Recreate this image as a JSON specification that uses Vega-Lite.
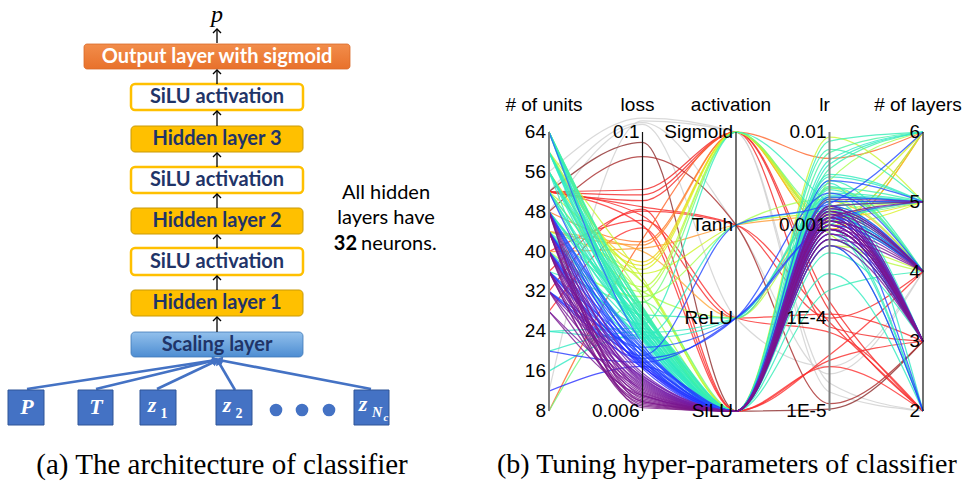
{
 "$schema": "https://vega.github.io/schema/vega-lite/v6.json",
 "width": 967, "height": 485,
 "autosize": {"type": "fit", "contains": "padding"},
 "padding": 0,
 "background": "white",
 "config": {"view": {"stroke": null}, "axis": {"disable": true}},
 "datasets": {
  "boxes": [
   {"k":"out","x":84,"x2":350,"y":44,"y2":69},
   {"k":"act","x":131,"x2":303,"y":84,"y2":110},
   {"k":"hid","x":131,"x2":303,"y":126,"y2":152},
   {"k":"act","x":131,"x2":303,"y":167,"y2":193},
   {"k":"hid","x":131,"x2":303,"y":208,"y2":234},
   {"k":"act","x":131,"x2":303,"y":248,"y2":275},
   {"k":"hid","x":131,"x2":303,"y":290,"y2":316},
   {"k":"scale","x":131,"x2":303,"y":332,"y2":357},
   {"k":"in","x":8,"x2":44,"y":390,"y2":425},
   {"k":"in","x":78,"x2":113,"y":390,"y2":425},
   {"k":"in","x":140,"x2":176,"y":390,"y2":425},
   {"k":"in","x":216,"x2":252,"y":390,"y2":425},
   {"k":"in","x":354,"x2":389,"y":390,"y2":425}
  ],
  "boxlabels": [
   {"k":"out","t":"Output layer with sigmoid","x":217,"y":57},
   {"k":"act","t":"SiLU activation","x":217,"y":97},
   {"k":"hid","t":"Hidden layer 3","x":217,"y":139},
   {"k":"act","t":"SiLU activation","x":217,"y":180},
   {"k":"hid","t":"Hidden layer 2","x":217,"y":221},
   {"k":"act","t":"SiLU activation","x":217,"y":262},
   {"k":"hid","t":"Hidden layer 1","x":217,"y":303},
   {"k":"scale","t":"Scaling layer","x":217,"y":345}
  ],
  "arrows": [
   {"x":217,"y":43,"y2":29},
   {"x":217,"y":84,"y2":70},
   {"x":217,"y":126,"y2":111},
   {"x":217,"y":167,"y2":153},
   {"x":217,"y":208,"y2":194},
   {"x":217,"y":248,"y2":235},
   {"x":217,"y":290,"y2":276},
   {"x":217,"y":332,"y2":317}
  ],
  "inlines": [
   {"x":27,"y":389,"x2":216,"y2":360},
   {"x":96,"y":389,"x2":216,"y2":360},
   {"x":157,"y":389,"x2":216,"y2":361},
   {"x":235,"y":390,"x2":218,"y2":361},
   {"x":371,"y":389,"x2":219,"y2":360}
  ],
  "dots": [{"x":276,"y":410},{"x":302,"y":410},{"x":329,"y":410}],
  "inletters": [
   {"t":"P","x":27,"y":407},{"t":"T","x":96,"y":407},
   {"t":"z","x":152,"y":405},{"t":"z","x":227,"y":405},{"t":"z","x":363,"y":404}
  ],
  "insub": [{"t":"1","x":164,"y":414},{"t":"2","x":239,"y":414}],
  "insubN": [{"t":"N","x":377,"y":413}],
  "insubc": [{"t":"c","x":386,"y":418}],
  "plabel": [{"t":"p","x":217,"y":15}],
  "note": [{"t":"All hidden","x":386,"y":193},{"t":"layers have","x":386,"y":218}],
  "notebold": [{"t":"32","x":357,"y":244}],
  "noteend": [{"t":"neurons.","x":361,"y":244}],
  "capa": [{"t":"(a) The architecture of classifier","x":222,"y":465}],
  "capb": [{"t":"(b) Tuning hyper-parameters of classifier","x":497,"y":465}],
  "runs": [
   {"id":1,"u":52,"l":0.11,"a":"Tanh","r":0.000025,"n":4},
   {"id":2,"u":12,"l":0.112,"a":"Sigmoid","r":0.000016,"n":2},
   {"id":3,"u":48,"l":0.108,"a":"ReLU","r":0.00003,"n":4},
   {"id":4,"u":56,"l":0.115,"a":"Sigmoid","r":0.00002,"n":2},
   {"id":5,"u":52,"l":0.09,"a":"SiLU","r":0.0000105,"n":3},
   {"id":6,"u":48,"l":0.078,"a":"Tanh","r":0.000012,"n":3},
   {"id":7,"u":52,"l":0.056,"a":"Sigmoid","r":0.00012,"n":2},
   {"id":8,"u":52,"l":0.053,"a":"Sigmoid","r":0.00008,"n":3},
   {"id":9,"u":52,"l":0.05,"a":"Sigmoid","r":0.00015,"n":2},
   {"id":10,"u":52,"l":0.047,"a":"Tanh","r":0.0001,"n":4},
   {"id":11,"u":36,"l":0.045,"a":"Tanh","r":0.00009,"n":2},
   {"id":12,"u":52,"l":0.043,"a":"ReLU","r":0.00011,"n":3},
   {"id":13,"u":40,"l":0.041,"a":"ReLU","r":0.00007,"n":2},
   {"id":14,"u":52,"l":0.039,"a":"SiLU","r":0.00004,"n":4},
   {"id":15,"u":32,"l":0.046,"a":"SiLU","r":0.000035,"n":3},
   {"id":16,"u":28,"l":0.038,"a":"SiLU","r":0.00003,"n":2},
   {"id":17,"u":8,"l":0.034,"a":"Sigmoid","r":0.0052,"n":6},
   {"id":18,"u":44,"l":0.032,"a":"Sigmoid","r":0.0011,"n":6},
   {"id":19,"u":40,"l":0.031,"a":"Tanh","r":0.0013,"n":5},
   {"id":20,"u":48,"l":0.033,"a":"Sigmoid","r":0.0009,"n":6},
   {"id":21,"u":44,"l":0.03,"a":"ReLU","r":0.0018,"n":4},
   {"id":22,"u":60,"l":0.027,"a":"Sigmoid","r":0.0009,"n":6},
   {"id":23,"u":56,"l":0.026,"a":"Sigmoid","r":0.0012,"n":5},
   {"id":24,"u":64,"l":0.025,"a":"Sigmoid","r":0.001,"n":5},
   {"id":25,"u":52,"l":0.024,"a":"Tanh","r":0.0015,"n":6},
   {"id":26,"u":60,"l":0.023,"a":"SiLU","r":0.0088,"n":5},
   {"id":27,"u":44,"l":0.022,"a":"SiLU","r":0.0025,"n":4},
   {"id":28,"u":56,"l":0.021,"a":"Sigmoid","r":0.0008,"n":4},
   {"id":29,"u":64,"l":0.02,"a":"ReLU","r":0.0014,"n":5},
   {"id":30,"u":48,"l":0.02,"a":"Sigmoid","r":0.0011,"n":6},
   {"id":31,"u":60,"l":0.019,"a":"SiLU","r":0.003,"n":6},
   {"id":32,"u":40,"l":0.019,"a":"Tanh","r":0.0019,"n":4},
   {"id":33,"u":8,"l":0.018,"a":"SiLU","r":0.0016,"n":5},
   {"id":34,"u":52,"l":0.022,"a":"SiLU","r":0.0006,"n":4},
   {"id":35,"u":64,"l":0.018,"a":"Sigmoid","r":0.0013,"n":5},
   {"id":36,"u":64,"l":0.0172,"a":"SiLU","r":0.006,"n":6},
   {"id":37,"u":60,"l":0.0168,"a":"SiLU","r":0.004,"n":6},
   {"id":38,"u":64,"l":0.0165,"a":"SiLU","r":0.0025,"n":5},
   {"id":39,"u":56,"l":0.0162,"a":"SiLU","r":0.0018,"n":5},
   {"id":40,"u":60,"l":0.016,"a":"SiLU","r":0.003,"n":4},
   {"id":41,"u":52,"l":0.0158,"a":"ReLU","r":0.002,"n":5},
   {"id":42,"u":64,"l":0.0155,"a":"SiLU","r":0.0012,"n":4},
   {"id":43,"u":56,"l":0.0152,"a":"SiLU","r":0.008,"n":6},
   {"id":44,"u":48,"l":0.015,"a":"SiLU","r":0.0022,"n":5},
   {"id":45,"u":60,"l":0.0148,"a":"SiLU","r":0.0009,"n":2},
   {"id":46,"u":64,"l":0.0146,"a":"SiLU","r":0.0015,"n":3},
   {"id":47,"u":44,"l":0.0144,"a":"Sigmoid","r":0.0017,"n":4},
   {"id":48,"u":56,"l":0.0142,"a":"SiLU","r":0.0035,"n":5},
   {"id":49,"u":52,"l":0.014,"a":"SiLU","r":0.0011,"n":4},
   {"id":50,"u":24,"l":0.0138,"a":"SiLU","r":0.002,"n":5},
   {"id":51,"u":60,"l":0.0136,"a":"SiLU","r":0.0007,"n":3},
   {"id":52,"u":48,"l":0.0135,"a":"SiLU","r":0.0045,"n":6},
   {"id":53,"u":20,"l":0.0134,"a":"SiLU","r":0.0013,"n":4},
   {"id":54,"u":64,"l":0.0133,"a":"SiLU","r":0.0028,"n":2},
   {"id":55,"u":56,"l":0.0132,"a":"ReLU","r":0.0016,"n":4},
   {"id":56,"u":44,"l":0.0131,"a":"SiLU","r":0.001,"n":5},
   {"id":57,"u":16,"l":0.013,"a":"SiLU","r":0.0024,"n":4},
   {"id":58,"u":60,"l":0.0129,"a":"SiLU","r":0.0006,"n":2},
   {"id":59,"u":52,"l":0.0128,"a":"SiLU","r":0.0019,"n":3},
   {"id":60,"u":64,"l":0.0127,"a":"SiLU","r":0.0033,"n":5},
   {"id":61,"u":48,"l":0.0126,"a":"Tanh","r":0.0014,"n":4},
   {"id":62,"u":40,"l":0.0125,"a":"SiLU","r":0.0008,"n":2},
   {"id":63,"u":56,"l":0.0124,"a":"SiLU","r":0.005,"n":6},
   {"id":64,"u":44,"l":0.0123,"a":"SiLU","r":0.0012,"n":3},
   {"id":65,"u":60,"l":0.0122,"a":"SiLU","r":0.0021,"n":5},
   {"id":66,"u":64,"l":0.017,"a":"SiLU","r":0.001,"n":4},
   {"id":67,"u":52,"l":0.0165,"a":"SiLU","r":0.0026,"n":4},
   {"id":68,"u":48,"l":0.0145,"a":"SiLU","r":0.0005,"n":3},
   {"id":69,"u":56,"l":0.0137,"a":"SiLU","r":0.0003,"n":2},
   {"id":70,"u":64,"l":0.0128,"a":"SiLU","r":0.0011,"n":4},
   {"id":71,"u":36,"l":0.0155,"a":"SiLU","r":0.0016,"n":5},
   {"id":72,"u":60,"l":0.015,"a":"SiLU","r":0.0002,"n":4},
   {"id":73,"u":44,"l":0.016,"a":"SiLU","r":0.0065,"n":5},
   {"id":74,"u":52,"l":0.0132,"a":"SiLU","r":0.0014,"n":3},
   {"id":75,"u":24,"l":0.0125,"a":"ReLU","r":0.0012,"n":4},
   {"id":76,"u":64,"l":0.0118,"a":"SiLU","r":0.0016,"n":3},
   {"id":77,"u":48,"l":0.0116,"a":"SiLU","r":0.0012,"n":4},
   {"id":78,"u":40,"l":0.0114,"a":"ReLU","r":0.0011,"n":5},
   {"id":79,"u":44,"l":0.0112,"a":"SiLU","r":0.0009,"n":3},
   {"id":80,"u":36,"l":0.011,"a":"SiLU","r":0.0014,"n":4},
   {"id":81,"u":48,"l":0.0108,"a":"SiLU","r":0.002,"n":5},
   {"id":82,"u":32,"l":0.0106,"a":"SiLU","r":0.0008,"n":3},
   {"id":83,"u":40,"l":0.0105,"a":"Tanh","r":0.0017,"n":6},
   {"id":84,"u":44,"l":0.0104,"a":"SiLU","r":0.0013,"n":2},
   {"id":85,"u":12,"l":0.0094,"a":"SiLU","r":0.001,"n":3},
   {"id":86,"u":36,"l":0.0102,"a":"ReLU","r":0.0022,"n":4},
   {"id":87,"u":48,"l":0.01,"a":"SiLU","r":0.0007,"n":3},
   {"id":88,"u":40,"l":0.0099,"a":"SiLU","r":0.0015,"n":4},
   {"id":89,"u":32,"l":0.0098,"a":"SiLU","r":0.0012,"n":3},
   {"id":90,"u":44,"l":0.0097,"a":"SiLU","r":0.0018,"n":5},
   {"id":91,"u":36,"l":0.0096,"a":"SiLU","r":0.0009,"n":3},
   {"id":92,"u":48,"l":0.0095,"a":"SiLU","r":0.0011,"n":4},
   {"id":93,"u":40,"l":0.0094,"a":"SiLU","r":0.0006,"n":2},
   {"id":94,"u":32,"l":0.0093,"a":"SiLU","r":0.0014,"n":3},
   {"id":95,"u":44,"l":0.0092,"a":"SiLU","r":0.001,"n":4},
   {"id":96,"u":36,"l":0.0101,"a":"SiLU","r":0.0013,"n":3},
   {"id":97,"u":52,"l":0.0103,"a":"SiLU","r":0.0016,"n":4},
   {"id":98,"u":40,"l":0.0109,"a":"SiLU","r":0.003,"n":5},
   {"id":99,"u":20,"l":0.0098,"a":"ReLU","r":0.0009,"n":3},
   {"id":100,"u":48,"l":0.0113,"a":"SiLU","r":0.0012,"n":3},
   {"id":101,"u":48,"l":0.0088,"a":"SiLU","r":0.001,"n":3},
   {"id":102,"u":44,"l":0.0086,"a":"SiLU","r":0.0008,"n":3},
   {"id":103,"u":40,"l":0.0084,"a":"SiLU","r":0.0012,"n":3},
   {"id":104,"u":36,"l":0.0083,"a":"SiLU","r":0.0009,"n":4},
   {"id":105,"u":48,"l":0.0081,"a":"SiLU","r":0.0014,"n":3},
   {"id":106,"u":44,"l":0.008,"a":"SiLU","r":0.0007,"n":4},
   {"id":107,"u":40,"l":0.0078,"a":"SiLU","r":0.0011,"n":3},
   {"id":108,"u":36,"l":0.0077,"a":"SiLU","r":0.0006,"n":3},
   {"id":109,"u":32,"l":0.0076,"a":"SiLU","r":0.0013,"n":4},
   {"id":110,"u":48,"l":0.0074,"a":"SiLU","r":0.0016,"n":5},
   {"id":111,"u":44,"l":0.0073,"a":"SiLU","r":0.001,"n":3},
   {"id":112,"u":40,"l":0.0072,"a":"SiLU","r":0.0008,"n":4},
   {"id":113,"u":36,"l":0.0071,"a":"SiLU","r":0.0012,"n":3},
   {"id":114,"u":28,"l":0.007,"a":"SiLU","r":0.0009,"n":3},
   {"id":115,"u":32,"l":0.0069,"a":"SiLU","r":0.0011,"n":3},
   {"id":116,"u":44,"l":0.0068,"a":"SiLU","r":0.0015,"n":4},
   {"id":117,"u":40,"l":0.0067,"a":"SiLU","r":0.001,"n":3},
   {"id":118,"u":48,"l":0.0066,"a":"SiLU","r":0.0009,"n":3},
   {"id":119,"u":36,"l":0.0065,"a":"SiLU","r":0.0014,"n":4},
   {"id":120,"u":44,"l":0.0064,"a":"SiLU","r":0.0012,"n":5},
   {"id":121,"u":40,"l":0.0063,"a":"SiLU","r":0.0007,"n":3},
   {"id":122,"u":48,"l":0.0062,"a":"SiLU","r":0.0011,"n":4},
   {"id":123,"u":32,"l":0.0085,"a":"SiLU","r":0.001,"n":3},
   {"id":124,"u":36,"l":0.0079,"a":"SiLU","r":0.0016,"n":3},
   {"id":125,"u":28,"l":0.0075,"a":"SiLU","r":0.0013,"n":3},
   {"id":126,"u":40,"l":0.0082,"a":"SiLU","r":0.0019,"n":5},
   {"id":127,"u":44,"l":0.007,"a":"SiLU","r":0.0011,"n":3},
   {"id":128,"u":36,"l":0.0066,"a":"SiLU","r":0.0009,"n":3}
  ],
  "pcaxes": [
   {"dim":"d1","title":"# of units"},
   {"dim":"d2","title":"loss"},
   {"dim":"d3","title":"activation"},
   {"dim":"d4","title":"lr"},
   {"dim":"d5","title":"# of layers"}
  ],
  "pcticks": [
   {"dim":"d1","v":1,"lab":"64"},{"dim":"d1","v":0.857143,"lab":"56"},{"dim":"d1","v":0.714286,"lab":"48"},{"dim":"d1","v":0.571429,"lab":"40"},
   {"dim":"d1","v":0.428571,"lab":"32"},{"dim":"d1","v":0.285714,"lab":"24"},{"dim":"d1","v":0.142857,"lab":"16"},{"dim":"d1","v":0,"lab":"8"},
   {"dim":"d2","v":1,"lab":"0.1"},{"dim":"d2","v":0,"lab":"0.006"},
   {"dim":"d3","v":1,"lab":"Sigmoid"},{"dim":"d3","v":0.666667,"lab":"Tanh"},{"dim":"d3","v":0.333333,"lab":"ReLU"},{"dim":"d3","v":0,"lab":"SiLU"},
   {"dim":"d4","v":1,"lab":"0.01"},{"dim":"d4","v":0.666667,"lab":"0.001"},{"dim":"d4","v":0.333333,"lab":"1E-4"},{"dim":"d4","v":0,"lab":"1E-5"},
   {"dim":"d5","v":1,"lab":"6"},{"dim":"d5","v":0.75,"lab":"5"},{"dim":"d5","v":0.5,"lab":"4"},{"dim":"d5","v":0.25,"lab":"3"},{"dim":"d5","v":0,"lab":"2"}
  ]
 },
 "layer": [
  {
   "encoding": {
    "x": {"field":"x","type":"quantitative","scale":{"domain":[0,967],"nice":false,"zero":false},"axis":null},
    "y": {"field":"y","type":"quantitative","scale":{"domain":[0,485],"nice":false,"zero":false,"reverse":true},"axis":null}
   },
   "layer": [
    {"data":{"name":"inlines"},"mark":{"type":"rule","stroke":"#4472C4","strokeWidth":2.6},
     "encoding":{"x2":{"field":"x2"},"y2":{"field":"y2"}}},
    {"data":{"name":"inlines"},
     "transform":[{"calculate":"atan2(datum.x2-datum.x, datum.y-datum.y2)*180/PI","as":"ang"}],
     "mark":{"type":"point","shape":"triangle-up","filled":true,"fill":"#4472C4","size":70,"opacity":1},
     "encoding":{"x":{"field":"x2","type":"quantitative","scale":{"domain":[0,967],"nice":false,"zero":false},"axis":null},
                 "y":{"field":"y2","type":"quantitative","scale":{"domain":[0,485],"nice":false,"zero":false,"reverse":true},"axis":null},
                 "angle":{"field":"ang","type":"quantitative","scale":null}}},
    {"data":{"name":"boxes"},"transform":[{"filter":"datum.k=='out'"}],
     "mark":{"type":"rect","cornerRadius":3,"stroke":"#d9692a","strokeWidth":0.8,
       "fill":{"gradient":"linear","x1":0,"y1":0,"x2":0,"y2":1,"stops":[{"offset":0,"color":"#f28d4b"},{"offset":1,"color":"#e8712b"}]}},
     "encoding":{"x2":{"field":"x2"},"y2":{"field":"y2"}}},
    {"data":{"name":"boxes"},"transform":[{"filter":"datum.k=='act'"}],
     "mark":{"type":"rect","cornerRadius":4,"fill":"#ffffff","stroke":"#FFC000","strokeWidth":2.5},
     "encoding":{"x2":{"field":"x2"},"y2":{"field":"y2"}}},
    {"data":{"name":"boxes"},"transform":[{"filter":"datum.k=='hid'"}],
     "mark":{"type":"rect","cornerRadius":4,"fill":"#FFC000","stroke":"#c99a06","strokeWidth":1},
     "encoding":{"x2":{"field":"x2"},"y2":{"field":"y2"}}},
    {"data":{"name":"boxes"},"transform":[{"filter":"datum.k=='scale'"}],
     "mark":{"type":"rect","cornerRadius":4,"stroke":"#3f78b8","strokeWidth":0.8,
       "fill":{"gradient":"linear","x1":0,"y1":0,"x2":0,"y2":1,"stops":[{"offset":0,"color":"#92c0ec"},{"offset":1,"color":"#4d8dd2"}]}},
     "encoding":{"x2":{"field":"x2"},"y2":{"field":"y2"}}},
    {"data":{"name":"boxes"},"transform":[{"filter":"datum.k=='in'"}],
     "mark":{"type":"rect","fill":"#4472C4","stroke":"#2f5597","strokeWidth":1},
     "encoding":{"x2":{"field":"x2"},"y2":{"field":"y2"}}},
    {"data":{"name":"arrows"},"mark":{"type":"rule","stroke":"#000000","strokeWidth":1.3},
     "encoding":{"y2":{"field":"y2"}}},
    {"data":{"name":"arrows"},
     "mark":{"type":"point","shape":"M-1,1L0,0L1,1","filled":false,"stroke":"#000000","strokeWidth":1.4,"size":64,"opacity":1},
     "encoding":{"y":{"field":"y2","type":"quantitative","scale":{"domain":[0,485],"nice":false,"zero":false,"reverse":true},"axis":null}}},
    {"data":{"name":"dots"},"mark":{"type":"point","shape":"circle","filled":true,"fill":"#4472C4","size":160,"opacity":1}},
    {"data":{"name":"boxlabels"},"transform":[{"filter":"datum.k=='out'"}],
     "mark":{"type":"text","font":"Lato","fontWeight":"bold","fontSize":20,"fill":"#ffffff","align":"center","baseline":"middle"},
     "encoding":{"text":{"field":"t"}}},
    {"data":{"name":"boxlabels"},"transform":[{"filter":"datum.k!='out'"}],
     "mark":{"type":"text","font":"Lato","fontWeight":"bold","fontSize":20,"fill":"#1f3468","align":"center","baseline":"middle"},
     "encoding":{"text":{"field":"t"}}},
    {"data":{"name":"inletters"},
     "mark":{"type":"text","font":"Liberation Serif","fontWeight":"bold","fontStyle":"italic","fontSize":22,"fill":"#ffffff","align":"center","baseline":"middle"},
     "encoding":{"text":{"field":"t"}}},
    {"data":{"name":"insub"},
     "mark":{"type":"text","font":"Liberation Serif","fontWeight":"bold","fontSize":14,"fill":"#ffffff","align":"center","baseline":"middle"},
     "encoding":{"text":{"field":"t"}}},
    {"data":{"name":"insubN"},
     "mark":{"type":"text","font":"Liberation Serif","fontWeight":"bold","fontStyle":"italic","fontSize":14,"fill":"#ffffff","align":"center","baseline":"middle"},
     "encoding":{"text":{"field":"t"}}},
    {"data":{"name":"insubc"},
     "mark":{"type":"text","font":"Liberation Serif","fontWeight":"bold","fontStyle":"italic","fontSize":11,"fill":"#ffffff","align":"center","baseline":"middle"},
     "encoding":{"text":{"field":"t"}}},
    {"data":{"name":"plabel"},
     "mark":{"type":"text","font":"Liberation Serif","fontStyle":"italic","fontSize":24,"fill":"#000000","align":"center","baseline":"middle"},
     "encoding":{"text":{"field":"t"}}},
    {"data":{"name":"note"},
     "mark":{"type":"text","font":"Lato","fontSize":20,"fill":"#000000","align":"center","baseline":"middle"},
     "encoding":{"text":{"field":"t"}}},
    {"data":{"name":"notebold"},
     "mark":{"type":"text","font":"Lato","fontWeight":"bold","fontSize":20,"fill":"#000000","align":"right","baseline":"middle"},
     "encoding":{"text":{"field":"t"}}},
    {"data":{"name":"noteend"},
     "mark":{"type":"text","font":"Lato","fontSize":20,"fill":"#000000","align":"left","baseline":"middle"},
     "encoding":{"text":{"field":"t"}}},
    {"data":{"name":"capa"},
     "mark":{"type":"text","font":"Liberation Serif","fontSize":29,"fill":"#000000","align":"center","baseline":"middle"},
     "encoding":{"text":{"field":"t"}}},
    {"data":{"name":"capb"},
     "mark":{"type":"text","font":"Liberation Serif","fontSize":28,"fill":"#000000","align":"left","baseline":"middle","clip":true},
     "encoding":{"text":{"field":"t"}}}
   ]
  },
  {
   "encoding": {
    "x": {"field":"dim","type":"nominal","scale":{"type":"point","domain":["e1","e2","e3","e4","e5","d1","d2","d3","d4","d5"],"padding":0.6711,"align":0.6494},"axis":null},
    "y": {"field":"v","type":"quantitative","scale":{"domain":[-0.26523,1.47312],"nice":false,"zero":false},"axis":null}
   },
   "layer": [
    {"data":{"name":"runs"},
     "transform":[
      {"calculate":"(datum.u-8)/56","as":"d1"},
      {"calculate":"log(datum.l/0.006)/log(0.1/0.006)","as":"d2"},
      {"calculate":"indexof(['SiLU','ReLU','Tanh','Sigmoid'], datum.a)/3","as":"d3"},
      {"calculate":"(log(datum.r)/LN10+5)/3","as":"d4"},
      {"calculate":"(datum.n-2)/4","as":"d5"},
      {"fold":["d1","d2","d3","d4","d5"],"as":["dim","v"]}
     ],
     "mark":{"type":"line","interpolate":"monotone","strokeWidth":1.25,"opacity":0.8},
     "encoding":{
      "detail":{"field":"id","type":"nominal"},
      "color":{"condition":{"test":"datum.l > 0.1","value":"#cfcfcf"},
               "field":"l","type":"quantitative",
               "scale":{"type":"linear","domain":[0.006,0.0088,0.0092,0.0118,0.0122,0.017,0.019,0.025,0.03,0.036,0.06,0.085],
                        "range":["#7a1580","#7020b0","#2a2aff","#2a60ff","#30e8c8","#40f0a8","#a8ff50","#d8f020","#ffa838","#ff3030","#ee2020","#8c2b2b"],"clamp":true},
               "legend":null}
     }},
    {"data":{"name":"pcticks"},"transform":[{"filter":"datum.dim=='d1'||datum.dim=='d4'"}],
     "mark":{"type":"rule","stroke":"#808080","strokeWidth":2},
     "encoding":{"y":{"aggregate":"min","field":"v","type":"quantitative","axis":null},"y2":{"aggregate":"max","field":"v"}}},
    {"data":{"name":"pcticks"},"transform":[{"filter":"datum.dim!='d1'&&datum.dim!='d4'"}],
     "mark":{"type":"rule","stroke":"#111111","strokeWidth":1.2},
     "encoding":{"y":{"aggregate":"min","field":"v","type":"quantitative","axis":null},"y2":{"aggregate":"max","field":"v"}}},
    {"data":{"name":"pcticks"},
     "mark":{"type":"text","font":"Liberation Sans","fontSize":19,"fill":"#000000","align":"right","baseline":"middle","dx":-3},
     "encoding":{"text":{"field":"lab"}}},
    {"data":{"name":"pcticks"},
     "transform":[{"aggregate":[{"op":"max","field":"v","as":"v"}],"groupby":["dim"]},
                  {"lookup":"dim","from":{"data":{"name":"pcaxes"},"key":"dim","fields":["title"]}}],
     "mark":{"type":"text","font":"Liberation Sans","fontSize":19,"fill":"#000000","align":"center","baseline":"middle","dx":-5,"dy":-27},
     "encoding":{"text":{"field":"title"}}}
   ]
  }
 ],
 "resolve": {"scale": {"x":"independent","y":"independent"}}
}
